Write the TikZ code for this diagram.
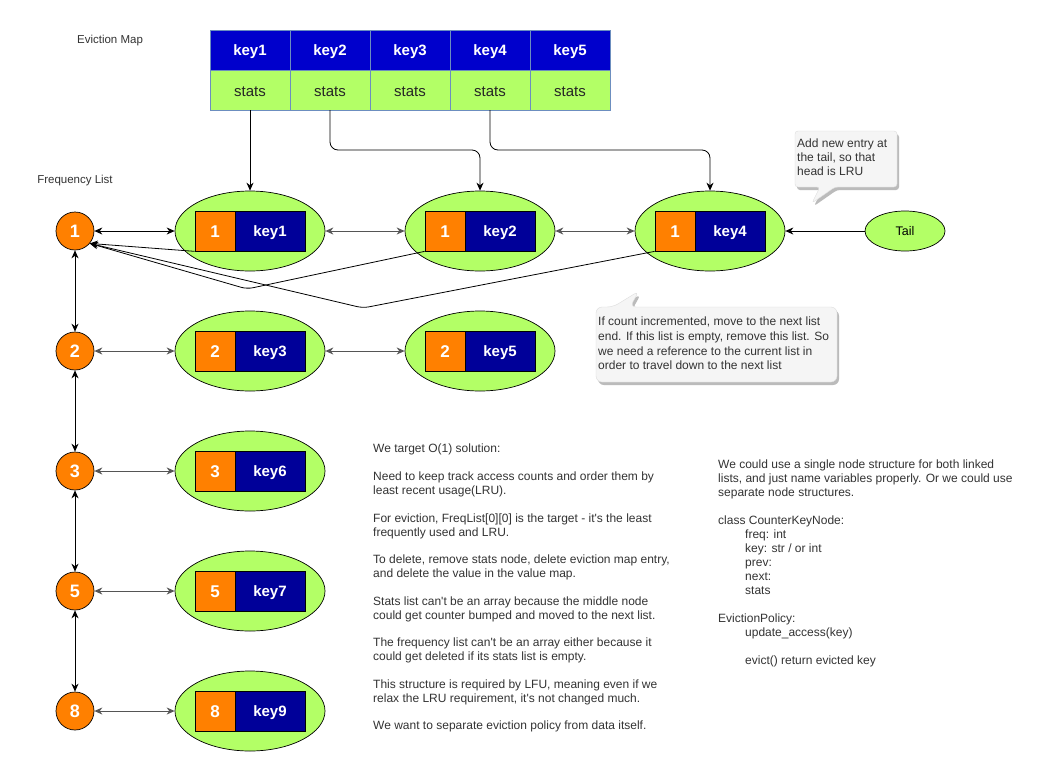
\documentclass[tikz,border=0pt]{standalone}
\usepackage{fontspec}
\setmainfont{Liberation Sans}[Ligatures=TeXOff]
\usetikzlibrary{shapes.geometric,arrows.meta,calc}
\definecolor{corange}{HTML}{FF8000}
\definecolor{cgreen}{HTML}{B3FF66}
\definecolor{cblue}{HTML}{0000CC}
\definecolor{cnavy}{HTML}{000099}
\definecolor{cborder}{HTML}{6C8EBF}
\definecolor{cnote}{HTML}{F5F5F5}
\definecolor{cnoteline}{HTML}{DDDDDD}
\definecolor{cshadow}{HTML}{BBBBBB}
\definecolor{ctxt}{HTML}{333333}
\definecolor{cline}{HTML}{555555}
\newcommand\fsz[2]{\fontsize{#1}{#2}\selectfont}
\tikzset{
  tip/.style={-{Stealth[length=8pt,width=7pt]}},
  dtip/.style={{Stealth[length=8pt,width=7pt]}-{Stealth[length=8pt,width=7pt]}},
  arr/.style={draw=black,line width=0.8pt,tip},
  darr/.style={draw=black,line width=0.8pt,dtip},
  garr/.style={draw=cline,line width=1pt,dtip},
  celltext/.style={inner sep=0,yshift=-2pt},
  keycell/.style={rectangle,draw=cborder,fill=cblue,minimum width=80pt,minimum height=40pt,inner sep=0,
     label={[celltext,text=white,font=\bfseries\fsz{15}{18}]center:#1}},
  statcell/.style={rectangle,draw=cborder,fill=cgreen,minimum width=80pt,minimum height=40pt,inner sep=0,
     label={[celltext,text=black!85,font=\fsz{15}{18}]center:#1}},
  cnode/.style={circle,draw=black,line width=0.7pt,fill=corange,minimum size=38pt,inner sep=0,text=white,font=\bfseries\fsz{18}{20}},
  kell/.style={ellipse,draw=black,line width=0.7pt,fill=cgreen,minimum width=150pt,minimum height=80pt,inner sep=0},
  obox/.style={rectangle,draw=black,line width=0.7pt,fill=corange,minimum width=40pt,minimum height=40pt,inner sep=0,
     label={[celltext,yshift=1pt,text=white,font=\bfseries\fsz{17}{20}]center:#1}},
  bbox/.style={rectangle,draw=black,line width=0.7pt,fill=cnavy,minimum width=70pt,minimum height=40pt,inner sep=0,
     label={[celltext,text=white,font=\bfseries\fsz{15}{18}]center:#1}},
  lbl/.style={inner sep=0,text=ctxt,font=\fsz{11.5}{13}},
  note/.style={inner sep=0,anchor=north west,align=left,text=ctxt},
}
\newcommand\keynode[5]{%
  \node[kell] (#1) at (#2,#3) {};
  \node[obox=#4] (#1-o) at ($(#1)+(-35,0)$) {};
  \node[bbox=#5] (#1-b) at ($(#1)+(20,0)$) {};
}
\begin{document}
\begin{tikzpicture}[x=1pt,y=-1pt]
\useasboundingbox (0,0) rectangle (1041,782);
\fill[white] (0,0) rectangle (1041,782);

% eviction map
\node[lbl] (emlbl) at (110,41) {Eviction Map};
\foreach \i/\x in {1/250,2/330,3/410,4/490,5/570}{
  \node[keycell=key\i] (m\i) at (\x,50) {};
  \node[statcell=stats] (s\i) at (\x,90) {};
}
\node[lbl] (fllbl) at (75,181) {Frequency List};

% frequency circles
\node[cnode] (c1) at (75,231) {1};
\node[cnode] (c2) at (75,351) {2};
\node[cnode] (c3) at (75,471) {3};
\node[cnode] (c5) at (75,591) {5};
\node[cnode] (c8) at (75,711) {8};

% key nodes
\keynode{k1}{250}{231}{1}{key1}
\keynode{k2}{480}{231}{1}{key2}
\keynode{k4}{710}{231}{1}{key4}
\keynode{k3}{250}{351}{2}{key3}
\keynode{k5}{480}{351}{2}{key5}
\keynode{k6}{250}{471}{3}{key6}
\keynode{k7}{250}{591}{5}{key7}
\keynode{k9}{250}{711}{8}{key9}

\node[ellipse,draw=black,line width=0.7pt,fill=cgreen,minimum width=80pt,minimum height=40pt,inner sep=0,font=\fsz{12.5}{14}] (tail) at (905,231) {Tail};

% map -> nodes
\draw[arr] (s1.south) -- (k1.north);
\draw[arr,rounded corners=8pt] (s2.south) -- (330,150) -| (k2.north);
\draw[arr,rounded corners=8pt] (s4.south) -- (490,150) -| (k4.north);

% horizontal links
\draw[darr] (c1.east) -- (k1.west);
\draw[garr] (k1.east) -- (k2.west);
\draw[garr] (k2.east) -- (k4.west);
\draw[arr] (tail.west) -- (k4.east);
\draw[garr] (c2.east) -- (k3.west);
\draw[garr] (k3.east) -- (k5.west);
\draw[garr] (c3.east) -- (k6.west);
\draw[garr] (c5.east) -- (k7.west);
\draw[garr] (c8.east) -- (k9.west);

% vertical links
\draw[darr] (c1.south) -- (c2.north);
\draw[darr] (c2.south) -- (c3.north);
\draw[darr] (c3.south) -- (c5.north);
\draw[darr] (c5.south) -- (c8.north);

% back links to list head
\coordinate (h1) at (c1.-40);
\draw[arr] (k1-o.south west) -- (h1);
\draw[arr,rounded corners=6pt] (k2-o.south west) -- (247,289) -- (h1);
\draw[arr,rounded corners=6pt] (k4-o.south west) -- (363,308) -- (h1);

% callout 1
\fill[cshadow,shift={(2,3)},rounded corners=3pt] (795,131) -- (897,131) -- (897,187) -- (835,187) -- (812,203) -- (820,187) -- (795,187) -- cycle;
\filldraw[fill=cnote,draw=cnoteline,rounded corners=3pt] (795,131) -- (897,131) -- (897,187) -- (835,187) -- (812,203) -- (820,187) -- (795,187) -- cycle;
\node[note,font=\fsz{12}{14}] (n1) at (797,139) {Add new entry at\\the tail, so that\\head is LRU};

% callout 2
\fill[cshadow,shift={(2,3)},rounded corners=6pt] (596,307) -- (613,307) -- (639,291) -- (630,307) -- (837,307) -- (837,382) -- (596,382) -- cycle;
\filldraw[fill=cnote,draw=cnoteline,rounded corners=6pt] (596,307) -- (613,307) -- (639,291) -- (630,307) -- (837,307) -- (837,382) -- (596,382) -- cycle;
\node[note,font=\fsz{12}{14.6}] (n2) at (598,317) {If count incremented, move to the next list\\end. If this list is empty, remove this list. So\\we need a reference to the current list in\\order to travel down to the next list};

% notes
\node[note,font=\fsz{12}{13.85}] (n3) at (373,444) {We target O(1) solution:\\[13.85pt]
Need to keep track access counts and order them by\\least recent usage(LRU).\\[13.85pt]
For eviction, FreqList[0][0] is the target - it's the least\\frequently used and LRU.\\[13.85pt]
To delete, remove stats node, delete eviction map entry,\\and delete the value in the value map.\\[13.85pt]
Stats list can't be an array because the middle node\\could get counter bumped and moved to the next list.\\[13.85pt]
The frequency list can't be an array either because it\\could get deleted if its stats list is empty.\\[13.85pt]
This structure is required by LFU, meaning even if we\\relax the LRU requirement, it's not changed much.\\[13.85pt]
We want to separate eviction policy from data itself.};

\node[note,font=\fsz{12}{14}] (n4) at (718,460) {We could use a single node structure for both linked\\lists, and just name variables properly. Or we could use\\separate node structures.\\[14pt]
class CounterKeyNode:\\
\hspace*{27pt}freq: int\\
\hspace*{27pt}key: str / or int\\
\hspace*{27pt}prev:\\
\hspace*{27pt}next:\\
\hspace*{27pt}stats\\[14pt]
EvictionPolicy:\\
\hspace*{27pt}update\_access(key)\\[14pt]
\hspace*{27pt}evict() return evicted key};
\end{tikzpicture}
\end{document}
